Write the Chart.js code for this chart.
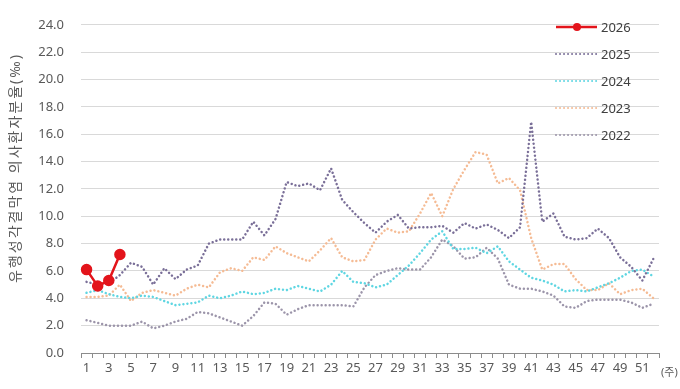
<!DOCTYPE html>
<html><head><meta charset="utf-8">
<script src="https://cdn.jsdelivr.net/npm/chart.js@4.4.1/dist/chart.umd.min.js"></script>
<style>html,body{margin:0;padding:0;background:#fff}canvas{display:block}</style>
</head><body>
<canvas id="c" width="680" height="389"></canvas>
<script>
const weeks = ['1','2','3','4','5','6','7','8','9','10','11','12','13','14','15','16','17','18','19','20','21','22','23','24','25','26','27','28','29','30','31','32','33','34','35','36','37','38','39','40','41','42','43','44','45','46','47','48','49','50','51','52'];
const seriesNames = ['2026','2025','2024','2023','2022'];
const s2026 = [6.1,4.9,5.3,7.2];
const s2025 = [5.2,5.0,5.1,5.7,6.6,6.3,5.0,6.2,5.4,6.1,6.4,8.0,8.3,8.3,8.3,9.6,8.6,9.8,12.5,12.2,12.4,11.9,13.5,11.2,10.3,9.5,8.8,9.6,10.1,9.1,9.2,9.2,9.3,8.8,9.5,9.1,9.4,9.0,8.4,9.2,16.9,9.6,10.2,8.5,8.3,8.4,9.1,8.4,7.0,6.3,5.3,6.9];
const s2024 = [4.4,4.6,4.3,4.1,4.0,4.2,4.1,3.8,3.5,3.6,3.7,4.2,4.0,4.2,4.5,4.3,4.4,4.7,4.6,4.9,4.7,4.5,5.0,6.0,5.2,5.1,4.8,5.0,5.7,6.4,7.3,8.3,8.9,7.6,7.6,7.7,7.3,7.8,6.7,6.1,5.5,5.3,5.0,4.5,4.6,4.5,4.8,5.1,5.5,6.0,6.1,5.6];
const s2023 = [4.1,4.1,4.2,5.0,3.8,4.4,4.6,4.4,4.2,4.7,5.0,4.8,5.9,6.2,6.0,7.0,6.8,7.8,7.3,7.0,6.7,7.5,8.4,7.0,6.7,6.8,8.3,9.1,8.8,8.9,10.2,11.7,10.0,12.0,13.4,14.7,14.5,12.4,12.8,11.9,8.4,6.1,6.5,6.5,5.4,4.6,4.6,5.1,4.3,4.6,4.7,4.0];
const s2022 = [2.4,2.2,2.0,2.0,2.0,2.3,1.8,2.0,2.3,2.5,3.0,2.9,2.6,2.3,2.0,2.7,3.7,3.6,2.8,3.2,3.5,3.5,3.5,3.5,3.4,4.8,5.7,6.0,6.2,6.1,6.1,7.0,8.3,7.8,6.9,7.0,7.7,6.9,5.0,4.7,4.7,4.5,4.2,3.4,3.3,3.8,3.9,3.9,3.9,3.7,3.3,3.6];
const yTitle = '유행성각결막염 의사환자분율(‰)';
const xUnit = '(주)';

const FONT = "'Noto Sans', 'Noto Sans CJK KR', sans-serif";
const TXT = '#595959';

function dotted(label, data, color) {
  return { label, data, borderColor: color, backgroundColor: color, borderWidth: 2.5,
    borderDash: [0.01, 4], borderCapStyle: 'round', pointRadius: 0, tension: 0, fill: false };
}

const extrasPlugin = {
  id: 'extras',
  afterDraw(chart) {
    const ctx = chart.ctx;
    chart.data.datasets.forEach((ds, i) => {
      const y = 27 + 27 * i;
      ctx.save();
      ctx.strokeStyle = ds.borderColor;
      ctx.lineWidth = ds.borderDash ? 2 : 2.5;
      ctx.lineCap = ds.borderDash ? 'round' : 'butt';
      ctx.setLineDash(ds.borderDash || []);
      ctx.beginPath(); ctx.moveTo(556, y); ctx.lineTo(597, y); ctx.stroke();
      ctx.setLineDash([]);
      if (ds.pointRadius > 0) {
        ctx.fillStyle = ds.borderColor;
        ctx.beginPath(); ctx.arc(577, y, 4, 0, Math.PI * 2); ctx.fill();
      }
      ctx.fillStyle = '#404040';
      ctx.font = '13px ' + FONT;
      ctx.textAlign = 'left'; ctx.textBaseline = 'middle';
      ctx.fillText(ds.label, 601, y + 1);
      ctx.restore();
    });
    ctx.save();
    ctx.fillStyle = TXT;
    ctx.font = '11px ' + FONT;
    ctx.textAlign = 'left'; ctx.textBaseline = 'middle';
    ctx.fillText(xUnit, chart.chartArea.right + 2, 373);
    ctx.restore();
    ctx.save();
    ctx.translate(16, 168);
    ctx.rotate(-Math.PI / 2);
    ctx.fillStyle = TXT;
    ctx.font = '14px ' + FONT;
    if ('letterSpacing' in ctx) ctx.letterSpacing = '2px';
    ctx.textAlign = 'center'; ctx.textBaseline = 'middle';
    ctx.fillText(yTitle, 0, 0);
    ctx.restore();
  }
};

new Chart(document.getElementById('c'), {
  type: 'line',
  data: {
    labels: weeks,
    datasets: [
      { label: seriesNames[0], data: s2026, borderColor: '#e3141b', backgroundColor: '#e3141b',
        borderWidth: 2.5, pointRadius: 4.5, pointBackgroundColor: '#e3141b', pointBorderColor: '#e3141b', tension: 0 },
      dotted(seriesNames[1], s2025, '#7a6f98'),
      dotted(seriesNames[2], s2024, '#5fd6e2'),
      dotted(seriesNames[3], s2023, '#f5bb94'),
      dotted(seriesNames[4], s2022, '#9c95aa')
    ]
  },
  options: {
    responsive: false, animation: false,
    layout: { padding: { top: 12, right: 21, left: 0, bottom: 0 } },
    plugins: { legend: { display: false }, tooltip: { enabled: false } },
    scales: {
      x: {
        type: 'category', offset: true,
        grid: { display: true, drawOnChartArea: false, drawTicks: true, tickLength: 5, color: '#8c8c8c', offset: true },
        border: { display: true, color: '#8c8c8c' },
        ticks: { autoSkip: false, maxRotation: 0, minRotation: 0, padding: 2, color: TXT,
          font: { size: 13, family: FONT },
          callback: (v, i) => (i % 2 === 0 ? weeks[i] : '') },
        afterFit: s => { s.height = 36; }
      },
      y: {
        min: 0, max: 24,
        ticks: { stepSize: 2, padding: 17, color: TXT, font: { size: 13, family: FONT },
          callback: v => Number(v).toFixed(1) },
        grid: { color: '#d9d9d9', drawTicks: false },
        border: { display: false },
        title: { display: false },
        afterFit: s => { s.width = 81; }
      }
    }
  },
  plugins: [extrasPlugin]
});
</script>
</body></html>
